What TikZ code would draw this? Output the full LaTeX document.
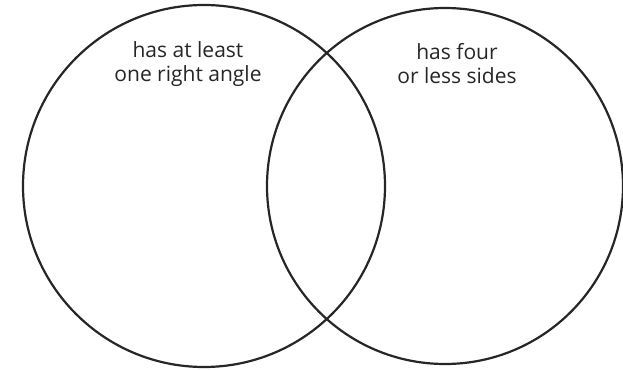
\documentclass[tikz,border=0pt]{standalone}
\usepackage{fontspec}
\setmainfont{Open Sans}
\begin{document}
\begin{tikzpicture}[x=1pt,y=-1pt,
  set/.style={draw=black!85,line width=2.2pt},
  label/.style={align=center,font=\fontsize{21}{24}\selectfont,text=black!85}]
\useasboundingbox (0,0) rectangle (623,369);
\draw[set] (204,186) circle (181);
\draw[set] (445,186) circle (178);
\node[label] (right angle) at (188,64) {has at least\\one right angle};
\node[label] (four sides) at (457,64) {has four\\or less sides};
\end{tikzpicture}
\end{document}
